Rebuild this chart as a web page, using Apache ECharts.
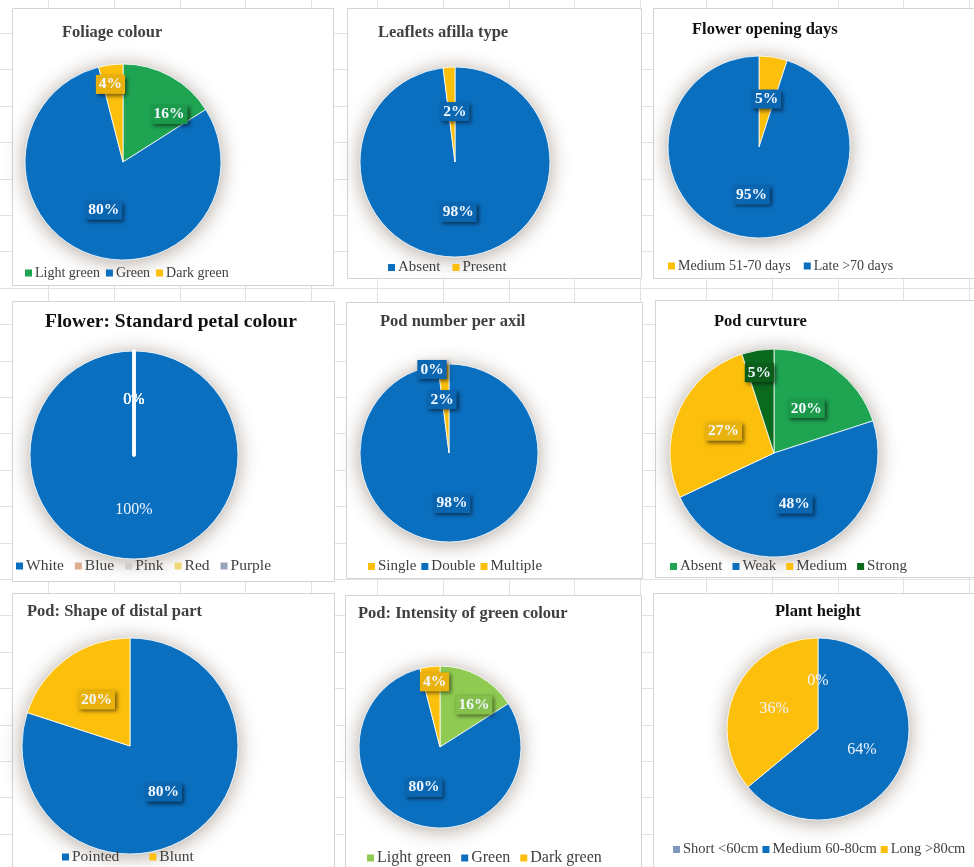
<!DOCTYPE html>
<html><head><meta charset="utf-8">
<script src="https://cdn.jsdelivr.net/npm/echarts@6/dist/echarts.min.js"></script>
<style>html,body{margin:0;padding:0;background:#fff}#c{width:974px;height:867px}</style>
</head><body><div id="c"></div><script>
// ---------------- DATA ----------------
const titles = ['Foliage colour','Leaflets afilla type','Flower opening days','Flower: Standard petal colour','Pod number per axil','Pod curvture','Pod: Shape of distal part','Pod: Intensity of green colour','Plant height'];

const foliageCats = ['Light green','Green','Dark green'];
const foliageVals = [16,80,4];
const leafletCats = ['Absent','Present'];
const leafletVals = [98,2];
const openingCats = ['Medium 51-70 days','Late >70 days'];
const openingVals = [5,95];
const petalCats = ['White','Blue','Pink','Red','Purple'];
const petalVals = [100,0,0,0,0];
const podNumCats = ['Single','Double','Multiple'];
const podNumVals = [0,98,2];
const curvCats = ['Absent','Weak','Medium','Strong'];
const curvVals = [20,48,27,5];
const distalCats = ['Pointed','Blunt'];
const distalVals = [80,20];
const podGreenCats = ['Light green','Green','Dark green'];
const podGreenVals = [16,80,4];
const heightCats = ['Short <60cm','Medium 60-80cm','Long >80cm'];
const heightVals = [0,64,36];

const panelCats = [foliageCats,leafletCats,openingCats,petalCats,podNumCats,curvCats,distalCats,podGreenCats,heightCats];
const panelVals = [foliageVals,leafletVals,openingVals,petalVals,podNumVals,curvVals,distalVals,podGreenVals,heightVals];

// ---------------- STYLE ----------------
const FONT = '"Liberation Serif","Times New Roman",serif';
const BLUE='#0b6fc0', YEL='#fcbf0c', GRN='#1fa552', LGRN='#8fcb52', DGRN='#0b6a1e';
const sliceColors = [
  [GRN,BLUE,YEL],
  [BLUE,YEL],
  [YEL,BLUE],
  [BLUE,'#dcae8e','#cfcfcf','#f0d878','#98a4bd'],
  [YEL,BLUE,YEL],
  [GRN,BLUE,YEL,DGRN],
  [BLUE,YEL],
  [LGRN,BLUE,YEL],
  ['#7f97bd',BLUE,YEL]
];
const boxColors = [
  ['#1c9a4c','#0b66b2','#e9b00c'],
  ['#0b66b2','#0b66b2'],
  ['#0b66b2','#0b66b2'],
  null,
  ['#0b66b2','#0b66b2','#0b66b2'],
  ['#1c9a4c','#0b66b2','#eab20c','#0a5e1a'],
  ['#0b66b2','#eab20c'],
  ['#86c04c','#0b66b2','#eab20c'],
  null
];
const labelShift = [
  [[21,-2],[0,0],[-6,-26]],
  [[0,0],[3,0]],
  [[0,0],[0,0]],
  [[0,0],[0,0],[0,0],[0,0],[0,0]],
  [[-17,-36],[0,3],[-4,-6]],
  [[0,0],[0,0],[0,0],[-6,-26]],
  [[0,0],[0,0]],
  [[13,-4],[0,0],[0,-22]],
  [[0,0],[0,0],[0,0]]
];
// panel layout: box, pie centre/radius, title, legend
const layout = [
  {box:[12,8,321,277],  c:[123,162], r:98,  t:[62,24],  tfs:16.5, tc:'#404040', lg:[25,266],  lfs:14, gap:6,  zb:1},
  {box:[347,8,294,270], c:[455,162], r:95,  t:[378,24], tfs:16.5, tc:'#404040', lg:[388,260], lfs:15, gap:12, zb:1},
  {box:[653,8,330,270], c:[759,147], r:91,  t:[692,21], tfs:16.5, tc:'#111111', lg:[668,259], lfs:14, gap:13, zb:1},
  {box:[12,301,322,280],c:[134,455], r:104, t:[45,312], tfs:19.5, tc:'#111111', lg:[16,558],  lfs:15.5, gap:11, zb:3},
  {box:[346,302,296,276],c:[449,453],r:89,  t:[380,313],tfs:16.5, tc:'#404040', lg:[368,559], lfs:15, gap:5,  zb:1},
  {box:[655,300,330,277],c:[774,453],r:104, t:[714,313],tfs:16.5, tc:'#111111', lg:[670,559], lfs:15, gap:10, zb:1},
  {box:[12,593,322,280],c:[130,746], r:108, t:[27,603], tfs:16.5, tc:'#404040', lg:[62,849],  lfs:15.5, gap:30, zb:1},
  {box:[345,595,296,280],c:[440,747],r:81,  t:[358,605],tfs:16.5, tc:'#404040', lg:[367,850], lfs:16, gap:10, zb:1},
  {box:[653,593,330,280],c:[818,729],r:91,  t:[775,603],tfs:16.5, tc:'#111111', lg:[673,842], lfs:14.5, gap:4,  zb:1}
];
const plainLabelPanels = [3,8];

// ---------------- BUILD ----------------
const graphics = [];
for (let k = 0; k < 15; k++) {
  const x = Math.round(48 + 65.8 * k) + 0.5;
  graphics.push({type:'line', z:0, shape:{x1:x,y1:0,x2:x,y2:867}, style:{stroke:'#e2e2e2', lineWidth:1}});
}
for (let k = 0; k < 25; k++) {
  const y = Math.round(33 + 36.4 * k) + 0.5;
  graphics.push({type:'line', z:0, shape:{x1:0,y1:y,x2:974,y2:y}, style:{stroke:'#e2e2e2', lineWidth:1}});
}
layout.forEach(L => {
  graphics.push({type:'rect', z:0, shape:{x:L.box[0]+0.5,y:L.box[1]+0.5,width:L.box[2],height:L.box[3]},
    style:{fill:'#fff', stroke:'#d4d4d4', lineWidth:1}});
});

const titleOpts = [], legendOpts = [], series = [];
layout.forEach((L, p) => {
  const cats = panelCats[p], vals = panelVals[p];
  const plain = plainLabelPanels.includes(p);
  titleOpts.push({text: titles[p], left: L.t[0], top: L.t[1], padding: 0,
    textStyle:{fontFamily:FONT, fontSize:L.tfs, fontWeight:'bold', color:L.tc}});
  legendOpts.push({left:L.lg[0], top:L.lg[1], width:340, padding:0, orient:'horizontal', icon:'rect',
    itemWidth:7, itemHeight:7, itemGap:L.gap, selectedMode:false,
    textStyle:{fontFamily:FONT, fontSize:L.lfs, color:'#404040', padding:[0,0,0,-2]},
    data: cats.map((n,i)=>({name:n, itemStyle:{color:sliceColors[p][i]}}))});
  // soft glow under the pie
  series.push({type:'pie', z:1, silent:true, center:L.c, radius:L.r, startAngle:90, clockwise:true,
    legendHoverLink:false, animation:false,
    data: cats.map((n,i)=>({name:n, value:vals[i]})),
    itemStyle:{color:'#fff', shadowBlur:20, shadowColor:'rgba(70,50,30,0.45)', shadowOffsetY:2},
    label:{show:false}, labelLine:{show:false}, emphasis:{disabled:true}});
  series.push({type:'pie', z:2, center:L.c, radius:L.r, startAngle:90, clockwise:true, animation:false,
    data: cats.map((n,i)=>{
      const d = {name:n, value:vals[i], itemStyle:{color:sliceColors[p][i]}};
      if (vals[i] === 0) d.itemStyle.borderWidth = L.zb;
      if (!plain) d.label = {backgroundColor: boxColors[p][i]};
      return d;
    }),
    itemStyle:{borderColor:'#ffffff', borderWidth:0.8},
    label: plain ? {show:true, position:'inside', formatter:'{c}%', fontFamily:FONT, fontSize:16,
                    fontWeight:'normal', color:'#eef4fb'}
                 : {show:true, position:'inside', formatter:'{c}%', fontFamily:FONT, fontSize:15.5,
                    fontWeight:'bold', color:'#f2f8ff', padding:[2,3,1,3],
                    shadowColor:'rgba(0,0,0,0.55)', shadowBlur:4, shadowOffsetX:2, shadowOffsetY:2},
    labelLine:{show:false},
    emphasis:{disabled:true},
    labelLayout: (function(shift){ return function(params){
        const s = shift[params.dataIndex] || [0,0];
        return {dx:s[0], dy:s[1]};
      };})(labelShift[p])
  });
});

const chart = echarts.init(document.getElementById('c'), null, {renderer:'canvas', width:974, height:867});
chart.setOption({
  animation:false,
  backgroundColor:'#ffffff',
  graphic:{elements:graphics},
  title:titleOpts,
  legend:legendOpts,
  series:series
});
</script></body></html>
